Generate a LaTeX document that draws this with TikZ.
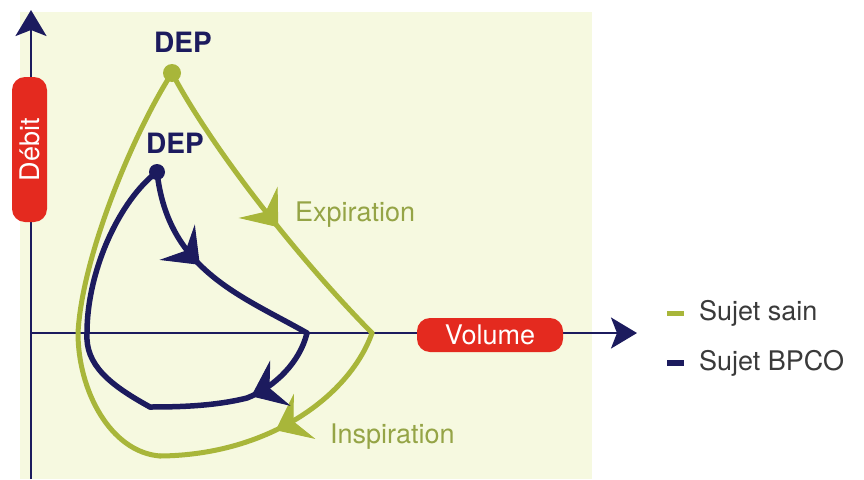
\documentclass[tikz,border=0pt]{standalone}
\usepackage{fontspec}
\setmainfont{TeX Gyre Heros}
\usepackage{tikz}
\usetikzlibrary{arrows.meta,decorations.markings}
\usetikzlibrary{positioning}

\definecolor{fond}{HTML}{F6F9E0}
\definecolor{vertsain}{HTML}{A8B63A}
\definecolor{vertlabel}{HTML}{95A446}
\definecolor{bleubpco}{HTML}{1C1B5E}
\definecolor{rouge}{HTML}{E42A1F}
\definecolor{gristexte}{HTML}{3A3A3A}

\tikzset{fleche/.style 2 args={postaction={decorate, decoration={markings,
  mark=at position #1 with {\arrow{Stealth[length=32pt, width=50pt, inset=12pt, line width=1pt, color=#2]}}}}}}

\begin{document}
\begin{tikzpicture}[x=1pt, y=-1pt, >={Stealth[length=26pt, width=31pt, inset=6pt]}]

    \tikzstyle{axe}=[draw=bleubpco, line width=2.5pt];
    \tikzstyle{etiquette}=[fill=rouge, text=white, rounded corners=13pt, inner sep=0pt, font=\fontsize{27}{30}\selectfont];
    \tikzstyle{sain}=[draw=vertsain, line width=5pt, line cap=round];
    \tikzstyle{bpco}=[draw=bleubpco, line width=5.5pt, line cap=round];
    \tikzstyle{dep}=[text=bleubpco, inner sep=0pt, font=\bfseries\fontsize{28}{30}\selectfont];
    \tikzstyle{phase}=[text=vertlabel, inner sep=0pt, anchor=west, font=\fontsize{27}{30}\selectfont];
    \tikzstyle{legende}=[text=gristexte, inner sep=0pt, font=\fontsize{27}{30}\selectfont];

    \useasboundingbox (0,0) rectangle (864,479);
    \fill[fond] (20,12) rectangle (592,479);

    % axes
    \coordinate (origine) at (31,479);
    \coordinate (haut) at (31,10);
    \coordinate (gauche) at (31,333);
    \coordinate (droite) at (637,333);
    \draw[axe, ->] (origine) -- (haut);
    \draw[axe, ->] (gauche) -- (droite);
    \node[etiquette, rotate=90, minimum width=145pt, minimum height=35pt](debit) at (29.5,149.5){Débit};
    \node[etiquette, minimum width=146pt, minimum height=34pt](volume) at (490,335){Volume};

    % sujet sain
    \coordinate (depS) at (172,73);
    \coordinate (pivS) at (372,333);
    \coordinate (basS) at (160,456);
    \coordinate (gauS) at (78,333);
    \draw[sain, fleche={0.57}{vertsain}] (depS) .. controls (210,145) and (295,255) .. (pivS);
    \draw[sain, fleche={0.54}{vertsain}] (pivS) .. controls (350,395) and (270,455) .. (basS);
    \draw[sain] (basS) .. controls (110,452) and (78,390) .. (gauS)
                       .. controls (82,255) and (135,130) .. (depS);

    % sujet BPCO
    \coordinate (depB) at (157,172);
    \coordinate (pivB) at (307,333);
    \coordinate (coinB) at (247,398);
    \coordinate (basB) at (150,407);
    \coordinate (gauB) at (87,333);
    \draw[bpco, fleche={0.45}{bleubpco}] (depB) .. controls (168,270) and (240,295) .. (pivB);
    \draw[bpco, fleche={0.46}{bleubpco}] (pivB) .. controls (300,362) and (275,387) .. (coinB)
                                       .. controls (215,406) and (180,407) .. (basB);
    \draw[bpco] (basB) .. controls (110,385) and (85,365) .. (gauB)
                       .. controls (87,270) and (120,200) .. (depB);

    \node[circle, fill=vertsain, minimum size=18pt, inner sep=0pt](pointS) at (depS){};
    \node[circle, fill=bleubpco, minimum size=16pt, inner sep=0pt](pointB) at (depB){};

    \node[dep](depSlab) at (183,42){DEP};
    \node[dep](depBlab) at (175,143){DEP};
    \node[phase](expi) at (295,215){Expiration};
    \node[phase](inspi) at (330,437){Inspiration};

    % legende
    \coordinate (legS) at (667,313);
    \coordinate (legSfin) at (684,313);
    \coordinate (legB) at (667,363);
    \coordinate (legBfin) at (684,363);
    \draw[sain, line cap=butt] (legS) -- (legSfin);
    \draw[bpco, line cap=butt] (legB) -- (legBfin);
    \node[legende, anchor=west, right=15pt of legSfin](sain){Sujet sain};
    \node[legende, anchor=west, right=15pt of legBfin](bpco){Sujet BPCO};

\end{tikzpicture}
\end{document}
